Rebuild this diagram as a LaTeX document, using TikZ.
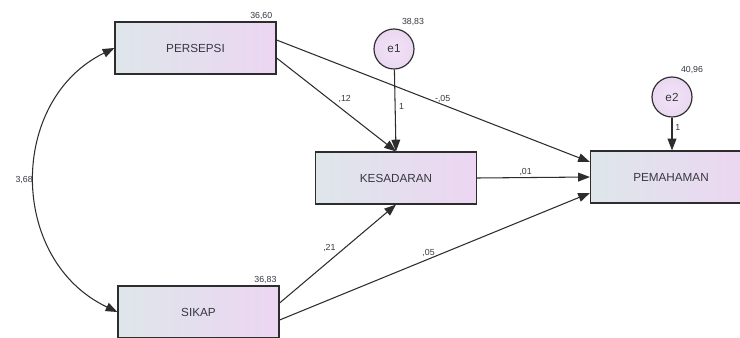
\documentclass[tikz,border=0pt]{standalone}
\usepackage{fontspec}
\setmainfont{Liberation Sans}
\usetikzlibrary{arrows.meta}
\definecolor{boxleft}{RGB}{222,230,234}
\definecolor{boxright}{RGB}{236,214,242}
\definecolor{linegrey}{RGB}{45,45,45}
\definecolor{textgrey}{RGB}{55,55,65}
\tikzset{
  var/.style={draw=linegrey, line width=1pt, rectangle, left color=boxleft, right color=boxright,
    minimum width=4.83cm, minimum height=1.56cm, inner sep=0pt, text=textgrey,
    font=\fontsize{10}{12}\selectfont},
  err/.style={draw=linegrey, line width=1pt, circle, inner color=boxright!70!white, outer color=boxright!90!boxleft,
    minimum size=1.2cm, inner sep=0pt, text=textgrey, font=\fontsize{10}{12}\selectfont},
  val/.style={text=textgrey, font=\fontsize{7.5}{9}\selectfont, inner sep=1.5pt},
  path/.style={draw=linegrey, line width=0.9pt, -{Triangle[length=10pt,width=7.5pt]}},
  cov/.style={draw=linegrey, line width=0.9pt, {Triangle[length=10pt,width=7.5pt]}-{Triangle[length=10pt,width=7.5pt]}}
}
\begin{document}
\begin{tikzpicture}[x=0.03cm, y=-0.03cm]
\useasboundingbox[fill=white] (0,0) rectangle (740,337);

\node[var] (persepsi) at (195.5,48) {PERSEPSI};
\node[var] (sikap) at (198.5,312) {SIKAP};
\node[var] (kesadaran) at (396,178) {KESADARAN};
\begin{scope}
\clip (0,0) rectangle (740,337);
\node[var] (pemahaman) at (671,177) {PEMAHAMAN};
\end{scope}
\node[err] (e1) at (394,49) {e1};
\node[err] (e2) at (672,97) {e2};

\node[val, above left] at ([xshift=-2pt]persepsi.north east) {36,60};
\node[val, above left] at ([xshift=-1pt]sikap.north east) {36,83};
\node[val] at (413,22) {38,83};
\node[val] at (692,70) {40,96};

\draw[path] ([yshift=0.24cm]persepsi.east) -- node[val, pos=0.53, above] {-,05} ([yshift=0.45cm]pemahaman.west);
\draw[path] ([yshift=-0.3cm]persepsi.east) -- node[val, pos=0.5, above right] {,12} (kesadaran.north);
\draw[path] (e1) -- node[val, pos=0.45, right, inner sep=3pt] {1} (kesadaran.north);
\draw[path] (e2) -- node[val, pos=0.3, right, inner sep=2.5pt] {1} (e2 |- pemahaman.north);
\draw[path] (kesadaran.east) -- node[val, pos=0.43, above] {,01} (pemahaman.west);
\draw[path] ([yshift=0.27cm]sikap.east) -- node[val, pos=0.5, above left] {,21} (kesadaran.south);
\draw[path] ([yshift=-0.24cm]sikap.east) -- node[val, pos=0.48, above] {,05} ([yshift=-0.48cm]pemahaman.west);

\draw[cov] (sikap.west) .. controls (8,260) and (8,100) .. node[val, pos=0.5, left] {3,68} (persepsi.west);
\end{tikzpicture}
\end{document}
